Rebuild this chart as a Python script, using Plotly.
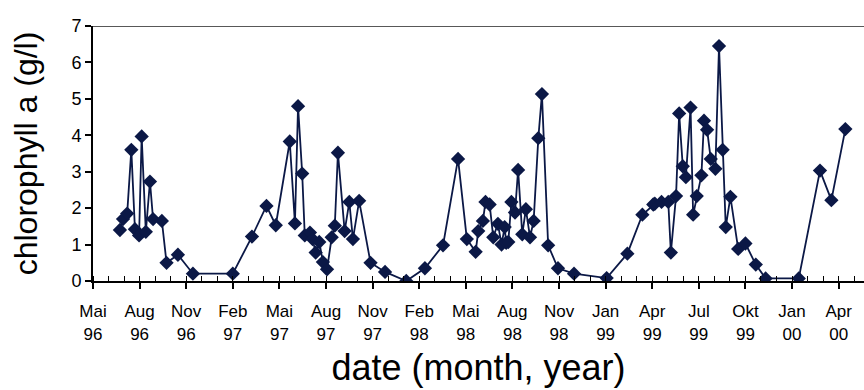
import pandas as pd
import plotly.graph_objects as go

# ---- data (sampling dates and chlorophyll a values) ----
dates = [
    "1996-07-06", "1996-07-12", "1996-07-20", "1996-07-28", "1996-08-04", "1996-08-12",
    "1996-08-17", "1996-08-25", "1996-09-02", "1996-09-08", "1996-09-25", "1996-10-04",
    "1996-10-26", "1996-11-24", "1997-02-09", "1997-03-18", "1997-04-15", "1997-05-03",
    "1997-05-30", "1997-06-09", "1997-06-15", "1997-06-23", "1997-06-28", "1997-07-08",
    "1997-07-13", "1997-07-19", "1997-07-26", "1997-08-02", "1997-08-10", "1997-08-19",
    "1997-08-25", "1997-08-31", "1997-09-13", "1997-09-22", "1997-09-29", "1997-10-11",
    "1997-11-02", "1997-11-30", "1998-01-10", "1998-02-15", "1998-03-22", "1998-04-20",
    "1998-05-07", "1998-05-24", "1998-05-29", "1998-06-07", "1998-06-12", "1998-06-20",
    "1998-06-27", "1998-07-06", "1998-07-13", "1998-07-19", "1998-07-22", "1998-07-26",
    "1998-08-01", "1998-08-08", "1998-08-14", "1998-08-22", "1998-08-29", "1998-09-06",
    "1998-09-13", "1998-09-22", "1998-09-29", "1998-10-11", "1998-10-30", "1998-11-30",
    "1999-02-01", "1999-03-13", "1999-04-11", "1999-05-02", "1999-05-05", "1999-05-18",
    "1999-05-31", "1999-06-05", "1999-06-15", "1999-06-21", "1999-06-28", "1999-07-04",
    "1999-07-13", "1999-07-18", "1999-07-25", "1999-08-03", "1999-08-08", "1999-08-14",
    "1999-08-21", "1999-08-30", "1999-09-06", "1999-09-13", "1999-09-19", "1999-09-28",
    "1999-10-13", "1999-10-27", "1999-11-16", "1999-12-05", "2000-02-07", "2000-03-19",
    "2000-04-10", "2000-05-07",
]
chl = [
    1.40, 1.70, 1.85, 3.60, 1.42, 1.25,
    3.97, 1.35, 2.73, 1.70, 1.65, 0.50,
    0.72, 0.20, 0.20, 1.22, 2.06, 1.53,
    3.83, 1.58, 4.80, 2.95, 1.25, 1.33,
    1.15, 0.78, 1.07, 0.52, 0.32, 1.20,
    1.52, 3.52, 1.37, 2.17, 1.15, 2.20,
    0.50, 0.25, 0.00, 0.35, 0.98, 3.35,
    1.15, 0.80, 1.37, 1.65, 2.17, 2.10,
    1.20, 1.57, 1.00, 1.48, 1.05, 1.07,
    2.17, 1.88, 3.05, 1.28, 1.97, 1.20,
    1.65, 3.92, 5.13, 0.98, 0.35, 0.20,
    0.08, 0.75, 1.82, 2.10, 2.12, 2.17,
    2.17, 0.78, 2.33, 4.60, 3.15, 2.85,
    4.76, 1.82, 2.33, 2.90, 4.40, 4.15,
    3.35, 3.08, 6.45, 3.60, 1.48, 2.31,
    0.88, 1.03, 0.45, 0.07, 0.07, 3.03,
    2.22, 4.17,
]

tick_labels = [
    "Mai<br>96", "Aug<br>96", "Nov<br>96", "Feb<br>97", "Mai<br>97", "Aug<br>97",
    "Nov<br>97", "Feb<br>98", "Mai<br>98", "Aug<br>98", "Nov<br>98", "Jan<br>99",
    "Apr<br>99", "Jul<br>99", "Okt<br>99", "Jan<br>00", "Apr<br>00",
]

# axis: start date, major unit 90 days, minor unit 30 days
axis_start = pd.Timestamp("1996-05-15")
major_days = 90
minor_days = 30
axis_end = axis_start + pd.Timedelta(days=1489)
tick_vals = [axis_start + pd.Timedelta(days=major_days * k) for k in range(len(tick_labels))]

color = "#0b1846"
tick_font = dict(family="Liberation Sans, Arial", size=17, color="black")

fig = go.Figure()
fig.add_trace(go.Scatter(
    x=pd.to_datetime(dates), y=chl, mode="lines+markers",
    line=dict(color=color, width=1.8),
    marker=dict(symbol="diamond", size=11, color=color),
    showlegend=False,
))

fig.update_layout(
    width=864, height=390,
    margin=dict(l=93, r=0, t=26, b=109),
    paper_bgcolor="white", plot_bgcolor="white",
    font=dict(family="Liberation Sans, Arial", color="black"),
)

fig.update_xaxes(
    type="date",
    range=[axis_start, axis_end],
    tickmode="array", tickvals=tick_vals, ticktext=tick_labels,
    tickfont=tick_font, tickangle=0, ticklabelstandoff=8,
    ticks="outside", ticklen=6, tickwidth=1.5, tickcolor="black",
    showline=True, linecolor="black", linewidth=2,
    showgrid=False, zeroline=False,
    minor=dict(ticks="inside", ticklen=5, tickwidth=1.2, tickcolor="black",
               dtick=minor_days * 86400000, tick0=axis_start, showgrid=False),
    title=dict(text="date (month, year)", font=dict(size=36), standoff=12),
)
# overlay axis to draw the inner half of the major ticks
fig.update_layout(xaxis2=dict(
    type="date", overlaying="x", matches="x", side="bottom", anchor="y",
    tickmode="array", tickvals=tick_vals, showticklabels=False,
    ticks="inside", ticklen=5, tickwidth=1.5, tickcolor="black",
    showline=False, showgrid=False, zeroline=False,
))
fig.update_yaxes(
    range=[0, 7], dtick=1, tick0=0,
    tickfont=dict(family="Liberation Sans, Arial", size=18, color="black"),
    ticks="outside", ticklen=6, tickwidth=1.5, tickcolor="black",
    showline=True, linecolor="black", linewidth=2,
    showgrid=False, zeroline=False,
    title=dict(text="chlorophyll a (g/l)", font=dict(size=32), standoff=24),
)

# top border line at y = 7
fig.add_shape(type="line", xref="paper", yref="y", x0=0, x1=1, y0=7, y1=7,
              line=dict(color="#202020", width=1.5))

fig.write_html("out.html")
